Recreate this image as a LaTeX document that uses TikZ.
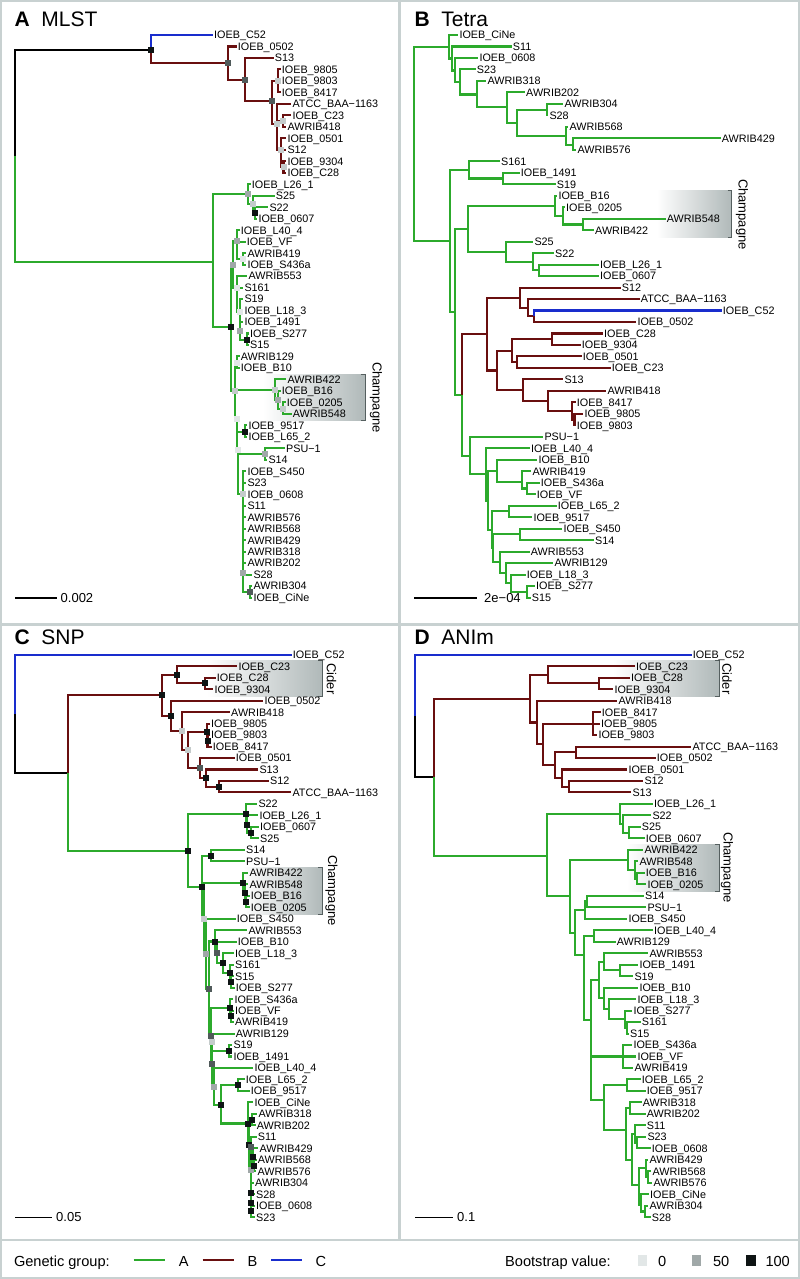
\documentclass[tikz,border=0pt]{standalone}
\usepackage{fontspec}
\setmainfont{Liberation Sans}
\usepackage{tikz}
\usetikzlibrary{calc}
\definecolor{grpA}{RGB}{44,170,44}
\definecolor{grpB}{RGB}{105,15,15}
\definecolor{grpC}{RGB}{25,45,205}
\definecolor{bs0}{RGB}{226,231,231}
\definecolor{bs25}{RGB}{196,203,203}
\definecolor{bs50}{RGB}{160,168,168}
\definecolor{bs75}{RGB}{80,90,90}
\definecolor{bs100}{RGB}{14,20,20}
\definecolor{framegray}{RGB}{200,209,209}
\definecolor{boxgray}{RGB}{176,185,185}
\definecolor{brk}{RGB}{85,95,95}
\newcommand{\tipfont}{\fontsize{10.8}{12}\selectfont}
\newcommand{\titlefont}{\fontsize{21}{24}\selectfont}
\newcommand{\cladefont}{\fontsize{13}{15}\selectfont}
\newcommand{\scalefont}{\fontsize{13}{15}\selectfont}
\newcommand{\legfont}{\fontsize{14.6}{16}\selectfont}
\tikzset{
  branch/.style={line width=2.05pt},
  grpa/.style={branch, draw=grpA},
  grpb/.style={branch, draw=grpB},
  grpc/.style={branch, draw=grpC},
  rootedge/.style={branch, draw=black},
  tiplab/.style={anchor=west, inner xsep=1.2pt, inner ysep=0pt, text height=7.8pt, text depth=0pt, font=\tipfont},
  cladelab/.style={rotate=-90, inner sep=0pt, font=\cladefont},
  cladebar/.style={draw=brk, line width=1pt},
  scalebar/.style={line width=1.6pt, draw=black},
  scalelab/.style={anchor=west, inner sep=0pt, text height=9.3pt, text depth=0pt, font=\scalefont},
  paneltitle/.style={anchor=base west, inner sep=0pt, font=\titlefont},
  legtext/.style={anchor=west, inner sep=0pt, text height=10.5pt, text depth=0pt, font=\legfont},
  legline/.style={line width=2.6pt},
  panelframe/.style={draw=framegray, line width=2.5pt}
}

\begin{document}
\begin{tikzpicture}[x=1pt, y=-1pt, declare function={ra(\i)=35+11.48*\i; rc(\i)=654.7+11.48*\i;}]
\path[use as bounding box, fill=white] (0,0) rectangle (800,1279);
\draw[panelframe] (1,1) rectangle (799,1278);
\draw[panelframe] (399.5,1) -- (399.5,1240);
\draw[panelframe] (1,624.5) -- (799,624.5);
\draw[panelframe] (1,1240) -- (799,1240);

% A: MLST
\node[paneltitle] (ta) at (14.5,26.5) {\textbf{A}\hspace{11.5pt}MLST};
\shade[left color=white, right color=boxgray] (263,374) rectangle (365,420);
\draw[cladebar] (361,374) -| (365,420) -- (361,420);
\node[cladelab] (a-champ) at (376,397.5) {Champagne};
\node[tiplab] (a-c52) at (212.8,{ra(0)}) {IOEB\_C52};
\node[tiplab] (a-0502) at (236.5,{ra(1)}) {IOEB\_0502};
\node[tiplab] (a-s13) at (273.5,{ra(2)}) {S13};
\node[tiplab] (a-9805) at (280.5,{ra(3)}) {IOEB\_9805};
\node[tiplab] (a-9803) at (280.5,{ra(4)}) {IOEB\_9803};
\node[tiplab] (a-8417) at (280.5,{ra(5)}) {IOEB\_8417};
\node[tiplab] (a-atcc) at (291.1,{ra(6)}) {ATCC\_BAA−1163};
\node[tiplab] (a-c23) at (291.1,{ra(7)}) {IOEB\_C23};
\node[tiplab] (a-418) at (286.1,{ra(8)}) {AWRIB418};
\node[tiplab] (a-0501) at (286.1,{ra(9)}) {IOEB\_0501};
\node[tiplab] (a-s12) at (286.1,{ra(10)}) {S12};
\node[tiplab] (a-9304) at (286.1,{ra(11)}) {IOEB\_9304};
\node[tiplab] (a-c28) at (286.1,{ra(12)}) {IOEB\_C28};
\node[tiplab] (a-l26) at (250.5,{ra(13)}) {IOEB\_L26\_1};
\node[tiplab] (a-s25) at (274.5,{ra(14)}) {S25};
\node[tiplab] (a-s22) at (268.1,{ra(15)}) {S22};
\node[tiplab] (a-0607) at (257.1,{ra(16)}) {IOEB\_0607};
\node[tiplab] (a-l40) at (239.5,{ra(17)}) {IOEB\_L40\_4};
\node[tiplab] (a-vf) at (245.5,{ra(18)}) {IOEB\_VF};
\node[tiplab] (a-419) at (246.1,{ra(19)}) {AWRIB419};
\node[tiplab] (a-s436a) at (246.1,{ra(20)}) {IOEB\_S436a};
\node[tiplab] (a-553) at (247.1,{ra(21)}) {AWRIB553};
\node[tiplab] (a-s161) at (243.1,{ra(22)}) {S161};
\node[tiplab] (a-s19) at (243.1,{ra(23)}) {S19};
\node[tiplab] (a-l18) at (243.1,{ra(24)}) {IOEB\_L18\_3};
\node[tiplab] (a-1491) at (243.1,{ra(25)}) {IOEB\_1491};
\node[tiplab] (a-s277) at (248.8,{ra(26)}) {IOEB\_S277};
\node[tiplab] (a-s15) at (248.8,{ra(27)}) {S15};
\node[tiplab] (a-129) at (239.5,{ra(28)}) {AWRIB129};
\node[tiplab] (a-b10) at (239.5,{ra(29)}) {IOEB\_B10};
\node[tiplab] (a-422) at (286.1,{ra(30)}) {AWRIB422};
\node[tiplab] (a-b16) at (280.5,{ra(31)}) {IOEB\_B16};
\node[tiplab] (a-0205) at (285.5,{ra(32)}) {IOEB\_0205};
\node[tiplab] (a-548) at (291.5,{ra(33)}) {AWRIB548};
\node[tiplab] (a-9517) at (247.1,{ra(34)}) {IOEB\_9517};
\node[tiplab] (a-l65) at (247.1,{ra(35)}) {IOEB\_L65\_2};
\node[tiplab] (a-psu) at (284.8,{ra(36)}) {PSU−1};
\node[tiplab] (a-s14) at (267.1,{ra(37)}) {S14};
\node[tiplab] (a-s450) at (246.1,{ra(38)}) {IOEB\_S450};
\node[tiplab] (a-s23) at (246.1,{ra(39)}) {S23};
\node[tiplab] (a-0608) at (246.1,{ra(40)}) {IOEB\_0608};
\node[tiplab] (a-s11) at (246.1,{ra(41)}) {S11};
\node[tiplab] (a-576) at (246.1,{ra(42)}) {AWRIB576};
\node[tiplab] (a-568) at (246.1,{ra(43)}) {AWRIB568};
\node[tiplab] (a-429) at (246.1,{ra(44)}) {AWRIB429};
\node[tiplab] (a-318) at (246.1,{ra(45)}) {AWRIB318};
\node[tiplab] (a-202) at (246.1,{ra(46)}) {AWRIB202};
\node[tiplab] (a-s28) at (252.1,{ra(47)}) {S28};
\node[tiplab] (a-304) at (252.1,{ra(48)}) {AWRIB304};
\node[tiplab] (a-cine) at (252.1,{ra(49)}) {IOEB\_CiNe};
\coordinate (aR) at (15,156);
\coordinate (aBC) at (151,50);
\coordinate (aB1) at (228,63);
\coordinate (aB2) at (245,80);
\coordinate (aB3) at (272,101);
\coordinate (aB98) at (278,81);
\coordinate (aBr) at (277,124);
\coordinate (aC23) at (283,121);
\coordinate (aBr3) at (281,150);
\coordinate (a93) at (283.5,166.5);
\coordinate (aA) at (213,262);
\coordinate (aA1) at (248,194);
\coordinate (aA1b) at (253,204);
\coordinate (aA1c) at (255,213);
\coordinate (aA2) at (231,327);
\coordinate (aG1) at (233,265);
\coordinate (aVF) at (237,241);
\coordinate (a419) at (243,259);
\coordinate (aG1b) at (236.7,288);
\coordinate (aS19) at (240,311.7);
\coordinate (a1491) at (240,330.7);
\coordinate (a277) at (246.7,340);
\coordinate (aG2) at (235,390.7);
\coordinate (a129) at (237,362.7);
\coordinate (aCh) at (275,390);
\coordinate (aCh2) at (278,400);
\coordinate (aCh3) at (283,409);
\coordinate (aG3) at (237.3,419.3);
\coordinate (a9517) at (245,431.7);
\coordinate (aG4) at (238.3,450);
\coordinate (aPSU) at (265,454.3);
\coordinate (aG5) at (242.7,494);
\coordinate (a28) at (243.3,573);
\coordinate (a304) at (250,592);
\draw[rootedge] (aR) |- (aBC);
\draw[grpa] (aR) |- (aA);
\draw[grpc] (aBC) |- (a-c52.west);
\draw[grpb] (aBC) |- (aB1);
\draw[grpb] (aB1) |- (a-0502.west) (aB1) |- (aB2);
\draw[grpb] (aB2) |- (a-s13.west) (aB2) |- (aB3);
\draw[grpb] (aB3) |- (aB98) (aB3) |- (aBr);
\draw[grpb] (aB98) |- (a-9805.west) (aB98) |- (a-9803.west) (aB98) |- (a-8417.west);
\draw[grpb] (aBr) |- (a-atcc.west) (aBr) |- (aC23) (aBr) |- (aBr3);
\draw[grpb] (aC23) |- (a-c23.west) (aC23) |- (a-418.west);
\draw[grpb] (aBr3) |- (a-0501.west) (aBr3) |- (a-s12.west) (aBr3) |- (a93);
\draw[grpb] (a93) |- (a-9304.west) (a93) |- (a-c28.west);
\draw[grpa] (aA) |- (aA1) (aA) |- (aA2);
\draw[grpa] (aA1) |- (a-l26.west) (aA1) |- (aA1b);
\draw[grpa] (aA1b) |- (a-s25.west) (aA1b) |- (aA1c);
\draw[grpa] (aA1c) |- (a-s22.west) (aA1c) |- (a-0607.west);
\draw[grpa] (aA2) |- (aG1) (aA2) |- (aG2);
\draw[grpa] (aG1) |- (aVF) (aG1) |- (aG1b);
\draw[grpa] (aVF) |- (a-l40.west) (aVF) |- (a-vf.west) (aVF) |- (a419);
\draw[grpa] (a419) |- (a-419.west) (a419) |- (a-s436a.west);
\draw[grpa] (aG1b) |- (a-553.west) (aG1b) |- (a-s161.west) (aG1b) |- (aS19);
\draw[grpa] (aS19) |- (a-s19.west) (aS19) |- (a-l18.west) (aS19) |- (a1491);
\draw[grpa] (a1491) |- (a-1491.west) (a1491) |- (a277);
\draw[grpa] (a277) |- (a-s277.west) (a277) |- (a-s15.west);
\draw[grpa] (aG2) |- (a129) (aG2) |- (aCh) (aG2) |- (aG3);
\draw[grpa] (a129) |- (a-129.west) (a129) |- (a-b10.west);
\draw[grpa] (aCh) |- (a-422.west) (aCh) |- (aCh2);
\draw[grpa] (aCh2) |- (a-b16.west) (aCh2) |- (aCh3);
\draw[grpa] (aCh3) |- (a-0205.west) (aCh3) |- (a-548.west);
\draw[grpa] (aG3) |- (a9517) (aG3) |- (aG4);
\draw[grpa] (a9517) |- (a-9517.west) (a9517) |- (a-l65.west);
\draw[grpa] (aG4) |- (aPSU) (aG4) |- (aG5);
\draw[grpa] (aPSU) |- (a-psu.west) (aPSU) |- (a-s14.west);
\draw[grpa] (aG5) |- (a-s450.west) (aG5) |- (a-s23.west) (aG5) |- (a-0608.west) (aG5) |- (a-s11.west) (aG5) |- (a-576.west) (aG5) |- (a-568.west) (aG5) |- (a-429.west) (aG5) |- (a-318.west) (aG5) |- (a-202.west) (aG5) |- (a28);
\draw[grpa] (a28) |- (a-s28.west) (a28) |- (a304);
\draw[grpa] (a304) |- (a-304.west) (a304) |- (a-cine.west);
\foreach \p/\c in {aBC/bs100, aB1/bs75, aB2/bs75, aB3/bs75, aB98/bs25, aBr/bs25, aC23/bs25, aBr3/bs25, a93/bs25, aA1/bs50, aA1b/bs25, aA1c/bs100, aA2/bs100, aG1/bs50, aVF/bs50, a419/bs0, aG1b/bs0, aS19/bs0, a1491/bs50, a277/bs100, aG2/bs25, a129/bs0, aCh/bs25, aCh2/bs50, aCh3/bs25, aG3/bs0, a9517/bs100, aG4/bs0, aPSU/bs50, aG5/bs25, a28/bs50, a304/bs75}
  \fill[\c] (\p) ++(-3,-3) rectangle ++(6,6);
\coordinate (asb1) at (15,597.7);
\coordinate (asb2) at (57,597.7);
\draw[scalebar] (asb1) -- (asb2);
\node[scalelab] (a-scale) at (60.5,597.7) {0.002};

% B: Tetra
\node[paneltitle] (tb) at (414.5,26.5) {\textbf{B}\hspace{11.5pt}Tetra};
\shade[left color=white, right color=boxgray] (656.7,190) rectangle (731.7,237.3);
\draw[cladebar] (727.7,190) -| (731.7,237.3) -- (727.7,237.3);
\node[cladelab] (b-champ) at (742,214.5) {Champagne};
\node[tiplab] (b-cine) at (458.1,{ra(0)}) {IOEB\_CiNe};
\node[tiplab] (b-s11) at (511.5,{ra(1)}) {S11};
\node[tiplab] (b-0608) at (478.1,{ra(2)}) {IOEB\_0608};
\node[tiplab] (b-s23) at (475.5,{ra(3)}) {S23};
\node[tiplab] (b-318) at (486.1,{ra(4)}) {AWRIB318};
\node[tiplab] (b-202) at (524.8,{ra(5)}) {AWRIB202};
\node[tiplab] (b-304) at (563.1,{ra(6)}) {AWRIB304};
\node[tiplab] (b-s28) at (548.1,{ra(7)}) {S28};
\node[tiplab] (b-568) at (568.1,{ra(8)}) {AWRIB568};
\node[tiplab] (b-429) at (720.5,{ra(9)}) {AWRIB429};
\node[tiplab] (b-576) at (576.1,{ra(10)}) {AWRIB576};
\node[tiplab] (b-s161) at (499.8,{ra(11)}) {S161};
\node[tiplab] (b-1491) at (519.5,{ra(12)}) {IOEB\_1491};
\node[tiplab] (b-s19) at (555.5,{ra(13)}) {S19};
\node[tiplab] (b-b16) at (557.1,{ra(14)}) {IOEB\_B16};
\node[tiplab] (b-0205) at (564.8,{ra(15)}) {IOEB\_0205};
\node[tiplab] (b-548) at (665.5,{ra(16)}) {AWRIB548};
\node[tiplab] (b-422) at (593.8,{ra(17)}) {AWRIB422};
\node[tiplab] (b-s25) at (533.1,{ra(18)}) {S25};
\node[tiplab] (b-s22) at (553.8,{ra(19)}) {S22};
\node[tiplab] (b-l26) at (598.8,{ra(20)}) {IOEB\_L26\_1};
\node[tiplab] (b-0607) at (598.8,{ra(21)}) {IOEB\_0607};
\node[tiplab] (b-s12) at (620.5,{ra(22)}) {S12};
\node[tiplab] (b-atcc) at (639.5,{ra(23)}) {ATCC\_BAA−1163};
\node[tiplab] (b-c52) at (721.5,{ra(24)}) {IOEB\_C52};
\node[tiplab] (b-0502) at (636.1,{ra(25)}) {IOEB\_0502};
\node[tiplab] (b-c28) at (602.8,{ra(26)}) {IOEB\_C28};
\node[tiplab] (b-9304) at (580.5,{ra(27)}) {IOEB\_9304};
\node[tiplab] (b-0501) at (581.5,{ra(28)}) {IOEB\_0501};
\node[tiplab] (b-c23) at (610.5,{ra(29)}) {IOEB\_C23};
\node[tiplab] (b-s13) at (563.1,{ra(30)}) {S13};
\node[tiplab] (b-418) at (606.1,{ra(31)}) {AWRIB418};
\node[tiplab] (b-8417) at (575.5,{ra(32)}) {IOEB\_8417};
\node[tiplab] (b-9805) at (583.1,{ra(33)}) {IOEB\_9805};
\node[tiplab] (b-9803) at (575.5,{ra(34)}) {IOEB\_9803};
\node[tiplab] (b-psu) at (543.1,{ra(35)}) {PSU−1};
\node[tiplab] (b-l40) at (529.8,{ra(36)}) {IOEB\_L40\_4};
\node[tiplab] (b-b10) at (537.1,{ra(37)}) {IOEB\_B10};
\node[tiplab] (b-419) at (531.1,{ra(38)}) {AWRIB419};
\node[tiplab] (b-s436a) at (539.5,{ra(39)}) {IOEB\_S436a};
\node[tiplab] (b-vf) at (535.5,{ra(40)}) {IOEB\_VF};
\node[tiplab] (b-l65) at (556.5,{ra(41)}) {IOEB\_L65\_2};
\node[tiplab] (b-9517) at (532.1,{ra(42)}) {IOEB\_9517};
\node[tiplab] (b-s450) at (562.1,{ra(43)}) {IOEB\_S450};
\node[tiplab] (b-s14) at (593.8,{ra(44)}) {S14};
\node[tiplab] (b-553) at (529.5,{ra(45)}) {AWRIB553};
\node[tiplab] (b-129) at (553.1,{ra(46)}) {AWRIB129};
\node[tiplab] (b-l18) at (525.5,{ra(47)}) {IOEB\_L18\_3};
\node[tiplab] (b-s277) at (534.8,{ra(48)}) {IOEB\_S277};
\node[tiplab] (b-s15) at (530.5,{ra(49)}) {S15};
\coordinate (bR) at (414,143.8);
\coordinate (b1) at (449,46.7);
\coordinate (b1b) at (452,58.5);
\coordinate (b1c) at (455,70.5);
\coordinate (b1d) at (460,82.2);
\coordinate (b1e) at (477.3,94.5);
\coordinate (b1f) at (506.7,106.7);
\coordinate (b1g) at (517.3,122.7);
\coordinate (b1h) at (546.7,109.7);
\coordinate (b1i) at (565.7,135.7);
\coordinate (b1j) at (573.3,144.6);
\coordinate (b2) at (450,241);
\coordinate (b2a) at (469.3,169.9);
\coordinate (b2a2) at (503.3,178.5);
\coordinate (b2x) at (455,312);
\coordinate (b2y) at (468.3,229);
\coordinate (b2y1) at (555,206);
\coordinate (b0205) at (563.3,216);
\coordinate (b548) at (582.7,224.5);
\coordinate (b2y2) at (506,251.7);
\coordinate (bS22) at (533.3,261.7);
\coordinate (bL26) at (539.3,270.4);
\coordinate (b2z) at (462.3,394.9);
\coordinate (bB) at (487.3,334);
\coordinate (bBt) at (520,297.7);
\coordinate (bBt2) at (527.7,307.6);
\coordinate (bBt3) at (534.3,316.3);
\coordinate (bBb) at (496.7,370.5);
\coordinate (bC) at (511.7,350.7);
\coordinate (bCC) at (551.7,339.3);
\coordinate (bCD) at (517.3,362.2);
\coordinate (bD) at (523.3,390.2);
\coordinate (bE) at (547.7,401);
\coordinate (bF) at (572.3,411);
\coordinate (bG) at (574.5,419.6);
\coordinate (bH) at (470,455.8);
\coordinate (bI) at (486,474.4);
\coordinate (bJ) at (488,500.5);
\coordinate (bL) at (496.7,471);
\coordinate (bK) at (521.7,482);
\coordinate (bM) at (527.3,488.5);
\coordinate (bN) at (491.7,530);
\coordinate (bO) at (509.3,511.4);
\coordinate (bP) at (493,548.3);
\coordinate (bQ) at (520,534.3);
\coordinate (bRr) at (500,562.3);
\coordinate (bS) at (506,573);
\coordinate (bT) at (510.7,583.2);
\coordinate (bU) at (527.3,591.8);
\draw[grpa] (bR) |- (b1) (bR) |- (b2);
\draw[grpa] (b1) |- (b-cine.west) (b1) |- (b1b);
\draw[grpa] (b1b) |- (b-s11.west) (b1b) |- (b1c);
\draw[grpa] (b1c) |- (b-0608.west) (b1c) |- (b1d);
\draw[grpa] (b1d) |- (b-s23.west) (b1d) |- (b1e);
\draw[grpa] (b1e) |- (b-318.west) (b1e) |- (b1f);
\draw[grpa] (b1f) |- (b-202.west) (b1f) |- (b1g);
\draw[grpa] (b1g) |- (b1h) (b1g) |- (b1i);
\draw[grpa] (b1h) |- (b-304.west) (b1h) |- (b-s28.west);
\draw[grpa] (b1i) |- (b-568.west) (b1i) |- (b1j);
\draw[grpa] (b1j) |- (b-429.west) (b1j) |- (b-576.west);
\draw[grpa] (b2) |- (b2a) (b2) |- (b2x);
\draw[grpa] (b2a) |- (b-s161.west) (b2a) |- (b2a2);
\draw[grpa] (b2a2) |- (b-1491.west) (b2a2) |- (b-s19.west);
\draw[grpa] (b2x) |- (b2y) (b2x) |- (b2z);
\draw[grpa] (b2y) |- (b2y1) (b2y) |- (b2y2);
\draw[grpa] (b2y1) |- (b-b16.west) (b2y1) |- (b0205);
\draw[grpa] (b0205) |- (b-0205.west) (b0205) |- (b548);
\draw[grpa] (b548) |- (b-548.west) (b548) |- (b-422.west);
\draw[grpa] (b2y2) |- (b-s25.west) (b2y2) |- (bS22);
\draw[grpa] (bS22) |- (b-s22.west) (bS22) |- (bL26);
\draw[grpa] (bL26) |- (b-l26.west) (bL26) |- (b-0607.west);
\draw[grpb] (b2z) |- (bB);
\draw[grpa] (b2z) |- (bH);
\draw[grpb] (bB) |- (bBt) (bB) |- (bBb);
\draw[grpb] (bBt) |- (b-s12.west) (bBt) |- (bBt2);
\draw[grpb] (bBt2) |- (b-atcc.west) (bBt2) |- (bBt3);
\draw[grpc] (bBt3) |- (b-c52.west);
\draw[grpb] (bBt3) |- (b-0502.west);
\draw[grpb] (bBb) |- (bC) (bBb) |- (bD);
\draw[grpb] (bC) |- (bCC) (bC) |- (bCD);
\draw[grpb] (bCC) |- (b-c28.west) (bCC) |- (b-9304.west);
\draw[grpb] (bCD) |- (b-0501.west) (bCD) |- (b-c23.west);
\draw[grpb] (bD) |- (b-s13.west) (bD) |- (bE);
\draw[grpb] (bE) |- (b-418.west) (bE) |- (bF);
\draw[grpb] (bF) |- (b-8417.west) (bF) |- (bG);
\draw[grpb] (bG) |- (b-9805.west) (bG) |- (b-9803.west);
\draw[grpa] (bH) |- (b-psu.west) (bH) |- (bI);
\draw[grpa] (bI) |- (b-l40.west) (bI) |- (bJ);
\draw[grpa] (bJ) |- (bL) (bJ) |- (bN);
\draw[grpa] (bL) |- (b-b10.west) (bL) |- (bK);
\draw[grpa] (bK) |- (b-419.west) (bK) |- (bM);
\draw[grpa] (bM) |- (b-s436a.west) (bM) |- (b-vf.west);
\draw[grpa] (bN) |- (bO) (bN) |- (bP);
\draw[grpa] (bO) |- (b-l65.west) (bO) |- (b-9517.west);
\draw[grpa] (bP) |- (bQ) (bP) |- (bRr);
\draw[grpa] (bQ) |- (b-s450.west) (bQ) |- (b-s14.west);
\draw[grpa] (bRr) |- (b-553.west) (bRr) |- (bS);
\draw[grpa] (bS) |- (b-129.west) (bS) |- (bT);
\draw[grpa] (bT) |- (b-l18.west) (bT) |- (bU);
\draw[grpa] (bU) |- (b-s277.west) (bU) |- (b-s15.west);
\coordinate (bsb1) at (414,597.7);
\coordinate (bsb2) at (477.3,597.7);
\draw[scalebar] (bsb1) -- (bsb2);
\node[scalelab] (b-scale) at (484,597.7) {2e−04};

% C: SNP
\node[paneltitle] (tc) at (14.5,644.5) {\textbf{C}\hspace{11.5pt}SNP};
\shade[left color=white, right color=boxgray] (207,660.3) rectangle (322,696.3);
\draw[cladebar] (318,660.3) -| (322,696.3) -- (318,696.3);
\node[cladelab] (c-cider) at (331.5,678.8) {Cider};
\shade[left color=white, right color=boxgray] (243,867) rectangle (322,914);
\draw[cladebar] (318,867) -| (322,914) -- (318,914);
\node[cladelab] (c-champ) at (331.5,890.5) {Champagne};
\node[tiplab] (c-c52) at (291.5,{rc(0)}) {IOEB\_C52};
\node[tiplab] (c-c23) at (237.1,{rc(1)}) {IOEB\_C23};
\node[tiplab] (c-c28) at (215.5,{rc(2)}) {IOEB\_C28};
\node[tiplab] (c-9304) at (213.1,{rc(3)}) {IOEB\_9304};
\node[tiplab] (c-0502) at (263.1,{rc(4)}) {IOEB\_0502};
\node[tiplab] (c-418) at (229.8,{rc(5)}) {AWRIB418};
\node[tiplab] (c-9805) at (209.8,{rc(6)}) {IOEB\_9805};
\node[tiplab] (c-9803) at (209.8,{rc(7)}) {IOEB\_9803};
\node[tiplab] (c-8417) at (211.5,{rc(8)}) {IOEB\_8417};
\node[tiplab] (c-0501) at (234.5,{rc(9)}) {IOEB\_0501};
\node[tiplab] (c-s13) at (258.1,{rc(10)}) {S13};
\node[tiplab] (c-s12) at (268.8,{rc(11)}) {S12};
\node[tiplab] (c-atcc) at (291.1,{rc(12)}) {ATCC\_BAA−1163};
\node[tiplab] (c-s22) at (257.1,{rc(13)}) {S22};
\node[tiplab] (c-l26) at (258.1,{rc(14)}) {IOEB\_L26\_1};
\node[tiplab] (c-0607) at (258.8,{rc(15)}) {IOEB\_0607};
\node[tiplab] (c-s25) at (258.8,{rc(16)}) {S25};
\node[tiplab] (c-s14) at (244.8,{rc(17)}) {S14};
\node[tiplab] (c-psu) at (244.8,{rc(18)}) {PSU−1};
\node[tiplab] (c-422) at (248.1,{rc(19)}) {AWRIB422};
\node[tiplab] (c-548) at (248.1,{rc(20)}) {AWRIB548};
\node[tiplab] (c-b16) at (249.5,{rc(21)}) {IOEB\_B16};
\node[tiplab] (c-0205) at (249.5,{rc(22)}) {IOEB\_0205};
\node[tiplab] (c-s450) at (235.5,{rc(23)}) {IOEB\_S450};
\node[tiplab] (c-553) at (247.1,{rc(24)}) {AWRIB553};
\node[tiplab] (c-b10) at (236.5,{rc(25)}) {IOEB\_B10};
\node[tiplab] (c-l18) at (233.8,{rc(26)}) {IOEB\_L18\_3};
\node[tiplab] (c-s161) at (233.8,{rc(27)}) {S161};
\node[tiplab] (c-s15) at (233.8,{rc(28)}) {S15};
\node[tiplab] (c-s277) at (234.5,{rc(29)}) {IOEB\_S277};
\node[tiplab] (c-s436a) at (233.1,{rc(30)}) {IOEB\_S436a};
\node[tiplab] (c-vf) at (233.8,{rc(31)}) {IOEB\_VF};
\node[tiplab] (c-419) at (233.8,{rc(32)}) {AWRIB419};
\node[tiplab] (c-129) at (234.5,{rc(33)}) {AWRIB129};
\node[tiplab] (c-s19) at (232.1,{rc(34)}) {S19};
\node[tiplab] (c-1491) at (232.1,{rc(35)}) {IOEB\_1491};
\node[tiplab] (c-l40) at (253.1,{rc(36)}) {IOEB\_L40\_4};
\node[tiplab] (c-l65) at (244.5,{rc(37)}) {IOEB\_L65\_2};
\node[tiplab] (c-9517) at (249.5,{rc(38)}) {IOEB\_9517};
\node[tiplab] (c-cine) at (253.1,{rc(39)}) {IOEB\_CiNe};
\node[tiplab] (c-318) at (257.1,{rc(40)}) {AWRIB318};
\node[tiplab] (c-202) at (255.5,{rc(41)}) {AWRIB202};
\node[tiplab] (c-s11) at (256.5,{rc(42)}) {S11};
\node[tiplab] (c-429) at (258.1,{rc(43)}) {AWRIB429};
\node[tiplab] (c-568) at (256.5,{rc(44)}) {AWRIB568};
\node[tiplab] (c-576) at (256.1,{rc(45)}) {AWRIB576};
\node[tiplab] (c-304) at (253.8,{rc(46)}) {AWRIB304};
\node[tiplab] (c-s28) at (254.8,{rc(47)}) {S28};
\node[tiplab] (c-0608) at (254.8,{rc(48)}) {IOEB\_0608};
\node[tiplab] (c-s23) at (254.8,{rc(49)}) {S23};
\coordinate (cR) at (15,714.3);
\coordinate (cBA) at (68.3,773);
\coordinate (cB) at (161.7,695.4);
\coordinate (cCi) at (176.7,674.8);
\coordinate (cC28) at (205,683.4);
\coordinate (cBb) at (170.7,716);
\coordinate (cBc) at (181.7,731.2);
\coordinate (cBd) at (188.3,750.1);
\coordinate (c98) at (206.7,732.2);
\coordinate (c9803) at (207.5,740.7);
\coordinate (cBe) at (200,768);
\coordinate (cBf) at (206,778.1);
\coordinate (cBg) at (219,786.7);
\coordinate (cA) at (188.3,850.7);
\coordinate (cA1) at (246,814.2);
\coordinate (cL26) at (247.3,824.5);
\coordinate (c0607) at (250.7,832.7);
\coordinate (cA2) at (201.7,887);
\coordinate (cS14) at (210.7,855.6);
\coordinate (cA3) at (204,918.5);
\coordinate (cCh) at (243.3,882.9);
\coordinate (cCh2) at (245,892.9);
\coordinate (cCh3) at (246,901.5);
\coordinate (cA4) at (206,954);
\coordinate (c553) at (215,941.5);
\coordinate (cB10) at (217.3,952.5);
\coordinate (cL18) at (222.7,963.3);
\coordinate (c161) at (230,973.3);
\coordinate (c15) at (230.7,981.8);
\coordinate (cA5) at (209.3,989);
\coordinate (c436) at (230,1007.7);
\coordinate (cVF) at (230.7,1016.3);
\coordinate (cA6) at (210.7,1036);
\coordinate (c129) at (212,1042.1);
\coordinate (cS19) at (229,1050.7);
\coordinate (cA7) at (211.7,1064.3);
\coordinate (cA8) at (214.3,1086.5);
\coordinate (cL65) at (237.7,1085.3);
\coordinate (cA9) at (220.7,1105);
\coordinate (cA10) at (248.3,1123.5);
\coordinate (cA11) at (249,1144.7);
\coordinate (c318) at (251.7,1119.7);
\coordinate (cA12) at (250.7,1169.8);
\coordinate (cS11) at (250.7,1146.9);
\coordinate (c429) at (253.3,1156.9);
\coordinate (c568) at (254,1165.5);
\coordinate (c304) at (250.7,1192.8);
\coordinate (cS28) at (250.7,1202.8);
\coordinate (c0608) at (250.7,1211.4);
\draw[grpc] (cR) |- (c-c52.west);
\draw[rootedge] (cR) |- (cBA);
\draw[grpb] (cBA) |- (cB);
\draw[grpa] (cBA) |- (cA);
\draw[grpb] (cB) |- (cCi) (cB) |- (cBb);
\draw[grpb] (cCi) |- (c-c23.west) (cCi) |- (cC28);
\draw[grpb] (cC28) |- (c-c28.west) (cC28) |- (c-9304.west);
\draw[grpb] (cBb) |- (c-0502.west) (cBb) |- (cBc);
\draw[grpb] (cBc) |- (c-418.west) (cBc) |- (cBd);
\draw[grpb] (cBd) |- (c98) (cBd) |- (cBe);
\draw[grpb] (c98) |- (c-9805.west) (c98) |- (c9803);
\draw[grpb] (c9803) |- (c-9803.west) (c9803) |- (c-8417.west);
\draw[grpb] (cBe) |- (c-0501.west) (cBe) |- (cBf);
\draw[grpb] (cBf) |- (c-s13.west) (cBf) |- (cBg);
\draw[grpb] (cBg) |- (c-s12.west) (cBg) |- (c-atcc.west);
\draw[grpa] (cA) |- (cA1) (cA) |- (cA2);
\draw[grpa] (cA1) |- (c-s22.west) (cA1) |- (cL26);
\draw[grpa] (cL26) |- (c-l26.west) (cL26) |- (c0607);
\draw[grpa] (c0607) |- (c-0607.west) (c0607) |- (c-s25.west);
\draw[grpa] (cA2) |- (cS14) (cA2) |- (cA3);
\draw[grpa] (cS14) |- (c-s14.west) (cS14) |- (c-psu.west);
\draw[grpa] (cA3) |- (cCh) (cA3) |- (cA4);
\draw[grpa] (cCh) |- (c-422.west) (cCh) |- (cCh2);
\draw[grpa] (cCh2) |- (c-548.west) (cCh2) |- (cCh3);
\draw[grpa] (cCh3) |- (c-b16.west) (cCh3) |- (c-0205.west);
\draw[grpa] (cA4) |- (c-s450.west) (cA4) |- (cA5);
\draw[grpa] (cA5) |- (c553) (cA5) |- (cA6);
\draw[grpa] (c553) |- (c-553.west) (c553) |- (cB10);
\draw[grpa] (cB10) |- (c-b10.west) (cB10) |- (cL18);
\draw[grpa] (cL18) |- (c-l18.west) (cL18) |- (c161);
\draw[grpa] (c161) |- (c-s161.west) (c161) |- (c15);
\draw[grpa] (c15) |- (c-s15.west) (c15) |- (c-s277.west);
\draw[grpa] (cA6) |- (c436) (cA6) |- (cA7);
\draw[grpa] (c436) |- (c-s436a.west) (c436) |- (cVF);
\draw[grpa] (cVF) |- (c-vf.west) (cVF) |- (c-419.west);
\draw[grpa] (cA7) |- (c129) (cA7) |- (cA8);
\draw[grpa] (c129) |- (c-129.west) (c129) |- (cS19);
\draw[grpa] (cS19) |- (c-s19.west) (cS19) |- (c-1491.west);
\draw[grpa] (cA8) |- (c-l40.west) (cA8) |- (cA9);
\draw[grpa] (cA9) |- (cL65) (cA9) |- (cA10);
\draw[grpa] (cL65) |- (c-l65.west) (cL65) |- (c-9517.west);
\draw[grpa] (cA10) |- (c-cine.west) (cA10) |- (cA11);
\draw[grpa] (cA11) |- (c318) (cA11) |- (cA12);
\draw[grpa] (c318) |- (c-318.west) (c318) |- (c-202.west);
\draw[grpa] (cA12) |- (cS11) (cA12) |- (c304);
\draw[grpa] (cS11) |- (c-s11.west) (cS11) |- (c429);
\draw[grpa] (c429) |- (c-429.west) (c429) |- (c568);
\draw[grpa] (c568) |- (c-568.west) (c568) |- (c-576.west);
\draw[grpa] (c304) |- (c-304.west) (c304) |- (cS28);
\draw[grpa] (cS28) |- (c-s28.west) (cS28) |- (c0608);
\draw[grpa] (c0608) |- (c-0608.west) (c0608) |- (c-s23.west);
\foreach \p/\c in {cB/bs100, cCi/bs100, cC28/bs100, cBb/bs100, cBc/bs25, cBd/bs25, c98/bs100, c9803/bs100, cBe/bs75, cBf/bs100, cBg/bs100, cA/bs100, cA1/bs100, cL26/bs100, c0607/bs100, cA2/bs100, cS14/bs100, cA3/bs25, cCh/bs100, cCh2/bs100, cCh3/bs100, cA4/bs50, c553/bs100, cB10/bs75, cL18/bs100, c161/bs100, c15/bs100, cA5/bs75, c436/bs100, cVF/bs100, cA6/bs75, c129/bs25, cS19/bs100, cA7/bs75, cA8/bs50, cL65/bs100, cA9/bs100, cA10/bs100, cA11/bs100, c318/bs100, cA12/bs50, cS11/bs75, c429/bs100, c568/bs100, c304/bs100, cS28/bs100, c0608/bs100}
  \fill[\c] (\p) ++(-3,-3) rectangle ++(6,6);
\coordinate (csb1) at (15,1217.3);
\coordinate (csb2) at (52.3,1217.3);
\draw[scalebar] (csb1) -- (csb2);
\node[scalelab] (c-scale) at (56,1217.3) {0.05};

% D: ANIm
\node[paneltitle] (td) at (414.5,644.5) {\textbf{D}\hspace{11.5pt}ANIm};
\shade[left color=white, right color=boxgray] (613,660.3) rectangle (719,696.3);
\draw[cladebar] (715,660.3) -| (719,696.3) -- (715,696.3);
\node[cladelab] (d-cider) at (727,678.8) {Cider};
\shade[left color=white, right color=boxgray] (626.7,844) rectangle (719,891.3);
\draw[cladebar] (715,844) -| (719,891.3) -- (715,891.3);
\node[cladelab] (d-champ) at (727,867.5) {Champagne};
\node[tiplab] (d-c52) at (691.5,{rc(0)}) {IOEB\_C52};
\node[tiplab] (d-c23) at (634.8,{rc(1)}) {IOEB\_C23};
\node[tiplab] (d-c28) at (629.8,{rc(2)}) {IOEB\_C28};
\node[tiplab] (d-9304) at (613.1,{rc(3)}) {IOEB\_9304};
\node[tiplab] (d-418) at (617.1,{rc(4)}) {AWRIB418};
\node[tiplab] (d-8417) at (600.5,{rc(5)}) {IOEB\_8417};
\node[tiplab] (d-9805) at (599.8,{rc(6)}) {IOEB\_9805};
\node[tiplab] (d-9803) at (597.1,{rc(7)}) {IOEB\_9803};
\node[tiplab] (d-atcc) at (691.1,{rc(8)}) {ATCC\_BAA−1163};
\node[tiplab] (d-0502) at (655.5,{rc(9)}) {IOEB\_0502};
\node[tiplab] (d-0501) at (627.1,{rc(10)}) {IOEB\_0501};
\node[tiplab] (d-s12) at (643.1,{rc(11)}) {S12};
\node[tiplab] (d-s13) at (631.1,{rc(12)}) {S13};
\node[tiplab] (d-l26) at (652.8,{rc(13)}) {IOEB\_L26\_1};
\node[tiplab] (d-s22) at (651.1,{rc(14)}) {S22};
\node[tiplab] (d-s25) at (640.5,{rc(15)}) {S25};
\node[tiplab] (d-0607) at (644.5,{rc(16)}) {IOEB\_0607};
\node[tiplab] (d-422) at (643.1,{rc(17)}) {AWRIB422};
\node[tiplab] (d-548) at (638.1,{rc(18)}) {AWRIB548};
\node[tiplab] (d-b16) at (644.5,{rc(19)}) {IOEB\_B16};
\node[tiplab] (d-0205) at (646.1,{rc(20)}) {IOEB\_0205};
\node[tiplab] (d-s14) at (643.8,{rc(21)}) {S14};
\node[tiplab] (d-psu) at (646.1,{rc(22)}) {PSU−1};
\node[tiplab] (d-s450) at (627.1,{rc(23)}) {IOEB\_S450};
\node[tiplab] (d-l40) at (652.8,{rc(24)}) {IOEB\_L40\_4};
\node[tiplab] (d-129) at (615.5,{rc(25)}) {AWRIB129};
\node[tiplab] (d-553) at (648.1,{rc(26)}) {AWRIB553};
\node[tiplab] (d-1491) at (638.1,{rc(27)}) {IOEB\_1491};
\node[tiplab] (d-s19) at (633.1,{rc(28)}) {S19};
\node[tiplab] (d-b10) at (638.1,{rc(29)}) {IOEB\_B10};
\node[tiplab] (d-l18) at (636.1,{rc(30)}) {IOEB\_L18\_3};
\node[tiplab] (d-s277) at (632.1,{rc(31)}) {IOEB\_S277};
\node[tiplab] (d-s161) at (640.5,{rc(32)}) {S161};
\node[tiplab] (d-s15) at (628.8,{rc(33)}) {S15};
\node[tiplab] (d-s436a) at (632.1,{rc(34)}) {IOEB\_S436a};
\node[tiplab] (d-vf) at (636.1,{rc(35)}) {IOEB\_VF};
\node[tiplab] (d-419) at (633.1,{rc(36)}) {AWRIB419};
\node[tiplab] (d-l65) at (640.5,{rc(37)}) {IOEB\_L65\_2};
\node[tiplab] (d-9517) at (645.5,{rc(38)}) {IOEB\_9517};
\node[tiplab] (d-318) at (641.5,{rc(39)}) {AWRIB318};
\node[tiplab] (d-202) at (645.5,{rc(40)}) {AWRIB202};
\node[tiplab] (d-s11) at (645.5,{rc(41)}) {S11};
\node[tiplab] (d-s23) at (646.1,{rc(42)}) {S23};
\node[tiplab] (d-0608) at (650.5,{rc(43)}) {IOEB\_0608};
\node[tiplab] (d-429) at (648.1,{rc(44)}) {AWRIB429};
\node[tiplab] (d-568) at (651.1,{rc(45)}) {AWRIB568};
\node[tiplab] (d-576) at (652.1,{rc(46)}) {AWRIB576};
\node[tiplab] (d-cine) at (648.8,{rc(47)}) {IOEB\_CiNe};
\node[tiplab] (d-304) at (648.1,{rc(48)}) {AWRIB304};
\node[tiplab] (d-s28) at (650.5,{rc(49)}) {S28};
\coordinate (dR) at (415,716.3);
\coordinate (dBA) at (434,777.4);
\coordinate (dB) at (530,698.6);
\coordinate (dCi) at (547.7,674.8);
\coordinate (dC28) at (599.3,683.4);
\coordinate (dBb) at (537.3,722.5);
\coordinate (dd) at (543.3,744.4);
\coordinate (d98) at (593.3,723.6);
\coordinate (de) at (555,765.2);
\coordinate (dAt) at (576,752.2);
\coordinate (d0501) at (561.7,778.1);
\coordinate (dS12) at (569.3,786.8);
\coordinate (dA) at (547.3,855.6);
\coordinate (dA1) at (620,814.2);
\coordinate (dS22) at (622.7,824);
\coordinate (dS25) at (629.3,832.6);
\coordinate (dA2) at (570,896.3);
\coordinate (dCh) at (627.7,860);
\coordinate (d548) at (635,870);
\coordinate (dB16) at (636.7,878.6);
\coordinate (dA3) at (575,932.6);
\coordinate (dS14) at (585,910.2);
\coordinate (dSP) at (586.7,901.5);
\coordinate (dA4) at (584,955);
\coordinate (d40) at (594.3,936);
\coordinate (dA5) at (590.7,1020);
\coordinate (dX) at (599.3,980);
\coordinate (d553) at (604,961.8);
\coordinate (d1491) at (620,970.4);
\coordinate (dB10) at (604,998.3);
\coordinate (dL18) at (609.3,1009);
\coordinate (d277) at (625,1019);
\coordinate (d161) at (627,1027.8);
\coordinate (d436) at (623.3,1056.5);
\coordinate (dA6) at (604,1100);
\coordinate (dL65) at (626.7,1085.3);
\coordinate (dA7) at (626,1130);
\coordinate (d318) at (630,1108.2);
\coordinate (dA8) at (631.7,1160);
\coordinate (dS11) at (635,1134);
\coordinate (dS23) at (637,1142.6);
\coordinate (dA9) at (639.3,1185);
\coordinate (d429) at (646,1168.4);
\coordinate (d568) at (648,1177);
\coordinate (dCi2) at (641,1205);
\coordinate (d304) at (645,1211.5);
\draw[grpc] (dR) |- (d-c52.west);
\draw[rootedge] (dR) |- (dBA);
\draw[grpb] (dBA) |- (dB);
\draw[grpa] (dBA) |- (dA);
\draw[grpb] (dB) |- (dCi) (dB) |- (dBb);
\draw[grpb] (dCi) |- (d-c23.west) (dCi) |- (dC28);
\draw[grpb] (dC28) |- (d-c28.west) (dC28) |- (d-9304.west);
\draw[grpb] (dBb) |- (d-418.west) (dBb) |- (dd);
\draw[grpb] (dd) |- (d98) (dd) |- (de);
\draw[grpb] (d98) |- (d-8417.west) (d98) |- (d-9805.west) (d98) |- (d-9803.west);
\draw[grpb] (de) |- (dAt) (de) |- (d0501);
\draw[grpb] (dAt) |- (d-atcc.west) (dAt) |- (d-0502.west);
\draw[grpb] (d0501) |- (d-0501.west) (d0501) |- (dS12);
\draw[grpb] (dS12) |- (d-s12.west) (dS12) |- (d-s13.west);
\draw[grpa] (dA) |- (dA1) (dA) |- (dA2);
\draw[grpa] (dA1) |- (d-l26.west) (dA1) |- (dS22);
\draw[grpa] (dS22) |- (d-s22.west) (dS22) |- (dS25);
\draw[grpa] (dS25) |- (d-s25.west) (dS25) |- (d-0607.west);
\draw[grpa] (dA2) |- (dCh) (dA2) |- (dA3);
\draw[grpa] (dCh) |- (d-422.west) (dCh) |- (d548);
\draw[grpa] (d548) |- (d-548.west) (d548) |- (dB16);
\draw[grpa] (dB16) |- (d-b16.west) (dB16) |- (d-0205.west);
\draw[grpa] (dA3) |- (dS14) (dA3) |- (dA4);
\draw[grpa] (dS14) |- (dSP) (dS14) |- (d-s450.west);
\draw[grpa] (dSP) |- (d-s14.west) (dSP) |- (d-psu.west);
\draw[grpa] (dA4) |- (d40) (dA4) |- (dA5);
\draw[grpa] (d40) |- (d-l40.west) (d40) |- (d-129.west);
\draw[grpa] (dA5) |- (dX) (dA5) |- (d436) (dA5) |- (dA6);
\draw[grpa] (dX) |- (d553) (dX) |- (dB10);
\draw[grpa] (d553) |- (d-553.west) (d553) |- (d1491);
\draw[grpa] (d1491) |- (d-1491.west) (d1491) |- (d-s19.west);
\draw[grpa] (dB10) |- (d-b10.west) (dB10) |- (dL18);
\draw[grpa] (dL18) |- (d-l18.west) (dL18) |- (d277);
\draw[grpa] (d277) |- (d-s277.west) (d277) |- (d161);
\draw[grpa] (d161) |- (d-s161.west) (d161) |- (d-s15.west);
\draw[grpa] (d436) |- (d-s436a.west) (d436) |- (d-vf.west) (d436) |- (d-419.west);
\draw[grpa] (dA6) |- (dL65) (dA6) |- (dA7);
\draw[grpa] (dL65) |- (d-l65.west) (dL65) |- (d-9517.west);
\draw[grpa] (dA7) |- (d318) (dA7) |- (dA8);
\draw[grpa] (d318) |- (d-318.west) (d318) |- (d-202.west);
\draw[grpa] (dA8) |- (dS11) (dA8) |- (dA9);
\draw[grpa] (dS11) |- (d-s11.west) (dS11) |- (dS23);
\draw[grpa] (dS23) |- (d-s23.west) (dS23) |- (d-0608.west);
\draw[grpa] (dA9) |- (d429) (dA9) |- (dCi2);
\draw[grpa] (d429) |- (d-429.west) (d429) |- (d568);
\draw[grpa] (d568) |- (d-568.west) (d568) |- (d-576.west);
\draw[grpa] (dCi2) |- (d-cine.west) (dCi2) |- (d304);
\draw[grpa] (d304) |- (d-304.west) (d304) |- (d-s28.west);
\coordinate (dsb1) at (415,1217.3);
\coordinate (dsb2) at (453.3,1217.3);
\draw[scalebar] (dsb1) -- (dsb2);
\node[scalelab] (d-scale) at (457,1217.3) {0.1};

% legend
\node[legtext] (lg-group) at (13.8,1261.7) {Genetic group:};
\coordinate (lga1) at (133.7,1260); \coordinate (lga2) at (164.8,1260);
\coordinate (lgb1) at (202.6,1260); \coordinate (lgb2) at (233.7,1260);
\coordinate (lgc1) at (271.4,1260); \coordinate (lgc2) at (302,1260);
\draw[legline, draw=grpA] (lga1) -- (lga2);
\draw[legline, draw=grpB] (lgb1) -- (lgb2);
\draw[legline, draw=grpC] (lgc1) -- (lgc2);
\node[legtext] (lg-a) at (178.6,1261.7) {A};
\node[legtext] (lg-b) at (247.4,1261.7) {B};
\node[legtext] (lg-c) at (315.3,1261.7) {C};
\node[legtext] (lg-boot) at (505,1261.7) {Bootstrap value:};
\fill[bs0] (637.8,1255.3) rectangle (647.3,1266);
\fill[bs50] (691.8,1255.3) rectangle (701.4,1266);
\fill[bs100] (746,1255.3) rectangle (755.5,1266);
\node[legtext] (lg-0) at (658,1261.7) {0};
\node[legtext] (lg-50) at (712.8,1261.7) {50};
\node[legtext] (lg-100) at (765.3,1261.7) {100};
\end{tikzpicture}
\end{document}
